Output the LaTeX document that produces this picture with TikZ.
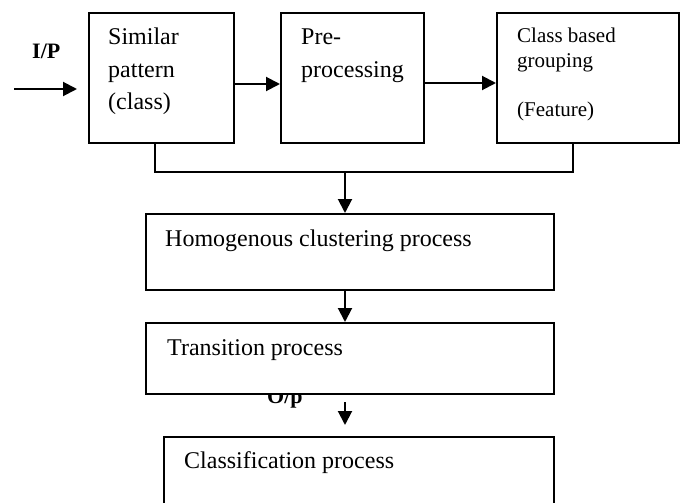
\documentclass[tikz,border=0pt]{standalone}
\usepackage{fontspec}
\setmainfont{Liberation Serif}
\usetikzlibrary{arrows.meta}
\tikzset{
  box/.style={draw, line width=2pt, fill=white, inner sep=0pt},
  tx/.style={inner sep=0pt, anchor=base west, align=left, font=\fontsize{24}{32.5}\selectfont},
  smalltx/.style={inner sep=0pt, anchor=base west, align=left, font=\fontsize{21}{24.7}\selectfont},
  iotx/.style={inner sep=0pt, anchor=base west, font=\fontsize{22}{26}\selectfont\bfseries},
  arr/.style={line width=2pt, -{Triangle[length=14pt,width=14pt]}},
  ln/.style={line width=2pt}
}
\newcommand{\blk}[5]{\node[box, anchor=north west, minimum width=#4, minimum height=#5] (#1) at (#2,#3) {};}

\begin{document}
\begin{tikzpicture}[x=1pt,y=-1pt]
    \useasboundingbox (0,0) rectangle (681,503);
    \clip (0,0) rectangle (681,503);
    % top row (texts placed at the baseline of their last line)
    \blk{sim}{88}{12}{145}{130}
    \blk{pre}{280}{12}{143}{130}
    \blk{cls}{496}{12}{182}{130}
    \node[tx] (simt) at (108,110) {Similar\\pattern\\(class)};
    \node[tx] (pret) at (301,77.5) {Pre-\\processing};
    \node[smalltx] (clst) at (517,117) {Class based\\grouping\\[24.7pt](Feature)};
    % input
    \coordinate (in) at (14,89);
    \node[iotx] (ip) at (32,59) {I/P};
    \draw[arr, shorten >=11pt] (in) -- (sim.west |- in);
    \draw[arr] ([yshift=-6pt]sim.east) -- ([yshift=-6pt]pre.west);
    \draw[arr] ([yshift=-5pt]pre.east) -- ([yshift=-5pt]cls.west);
    % lower column
    \blk{hom}{145}{213}{408}{76}
    \node[tx] (homt) at (165,246) {Homogenous clustering process};
    \node[iotx] (op) at (267,403) {O/p};
    \blk{tra}{145}{322}{408}{71}
    \node[tx] (trat) at (167,355) {Transition process};
    \blk{clf}{163}{436}{390}{100}
    \node[tx] (clft) at (184,468) {Classification process};
    % connectors
    \coordinate (join) at (345,172);
    \draw[ln] ([xshift=-7pt]sim.south) |- (join) -| ([xshift=-15pt]cls.south);
    \draw[arr] (join) -- (join |- hom.north);
    \draw[arr] (hom.south -| join) -- (tra.north -| join);
    \draw[arr, shorten <=7pt, shorten >=11pt] (tra.south -| join) -- (clf.north -| join);
\end{tikzpicture}
\end{document}
